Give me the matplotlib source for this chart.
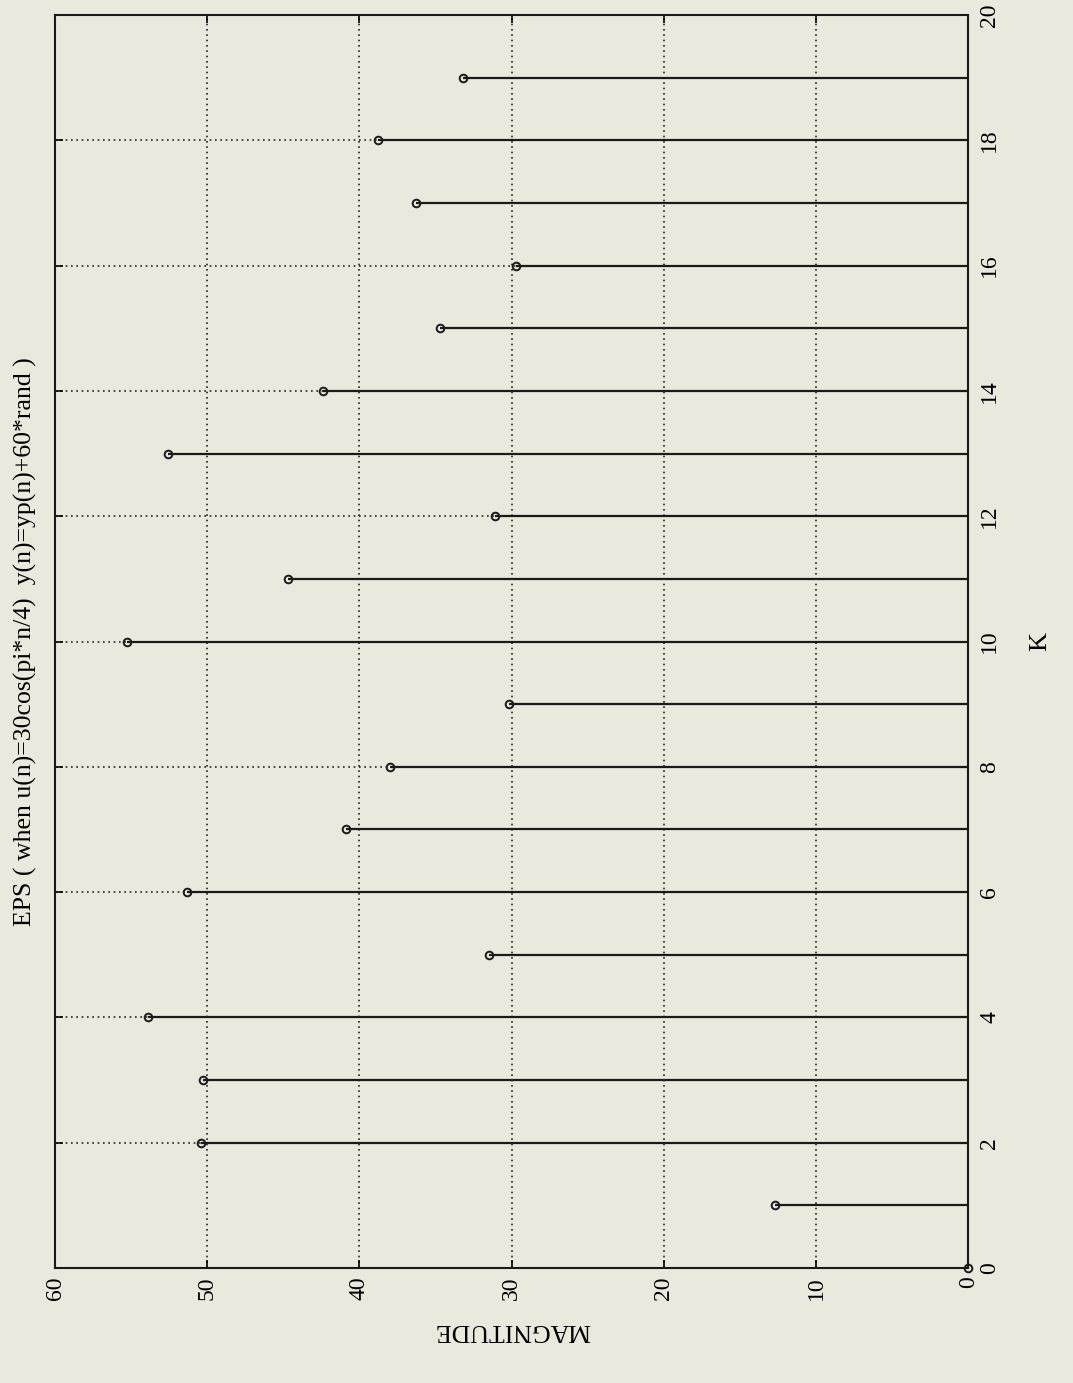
import matplotlib
matplotlib.use("Agg")
import matplotlib.pyplot as plt

# DATA

k_values = [0, 1, 2, 3, 4, 5, 6, 7, 8, 9, 10, 11, 12, 13, 14, 15, 16, 17, 18, 19]
magnitude = [0.0, 12.7, 50.4, 50.3, 53.9, 31.5, 51.3, 40.9, 38.0, 30.2,
             55.3, 44.7, 31.1, 52.6, 42.4, 34.7, 29.7, 36.3, 38.8, 33.2]

mag_ticks = [0, 10, 20, 30, 40, 50, 60]
k_ticks = [0, 2, 4, 6, 8, 10, 12, 14, 16, 18, 20]

title_text = "EPS ( when u(n)=30cos(pi*n/4)  y(n)=yp(n)+60*rand )"
paper = "#ebe8dd"

plt.rcParams["font.family"] = ["Liberation Serif", "DejaVu Serif"]

fig = plt.figure(figsize=(10.73, 13.83), dpi=100, facecolor=paper)
ax = fig.add_axes([0.0513, 0.0832, 0.851, 0.9059])
ax.set_facecolor(paper)

# stems drawn sideways: the page was scanned turned on its side
ax.hlines(k_values, 0, magnitude, color="#1a1a1a", lw=1.6)
ax.plot(magnitude, k_values, "o", mfc="none", mec="#1a1a1a", mew=1.4, ms=5.5, clip_on=False)

ax.set_xlim(60, 0)
ax.set_ylim(0, 20)
ax.set_xticks(mag_ticks)
ax.set_yticks(k_ticks)
ax.yaxis.tick_right()
ax.tick_params(axis="both", direction="in", length=6, width=1.2, labelsize=17,
               top=True, left=True, right=True, bottom=True)
ax.tick_params(axis="x", pad=6)
ax.tick_params(axis="y", pad=8)
for lbl in ax.get_xticklabels():
    lbl.set_rotation(90)
    lbl.set_va("top")
for lbl in ax.get_yticklabels():
    lbl.set_rotation(90)
    lbl.set_va("center")

ax.grid(True, color="#222222", linestyle=(0, (1, 2.2)), lw=1.2)
for s in ax.spines.values():
    s.set_linewidth(1.5)
    s.set_color("#1a1a1a")

# labels, turned like the page
fig.text(0.024, 0.536, title_text, rotation=90, ha="center", va="center", fontsize=18.5)
fig.text(0.969, 0.536, "K", rotation=90, ha="center", va="center", fontsize=19)
fig.text(0.477, 0.038, "MAGNITUDE", rotation=180, ha="center", va="center", fontsize=18.5)

fig.savefig("out.png", dpi=100, facecolor=paper)
